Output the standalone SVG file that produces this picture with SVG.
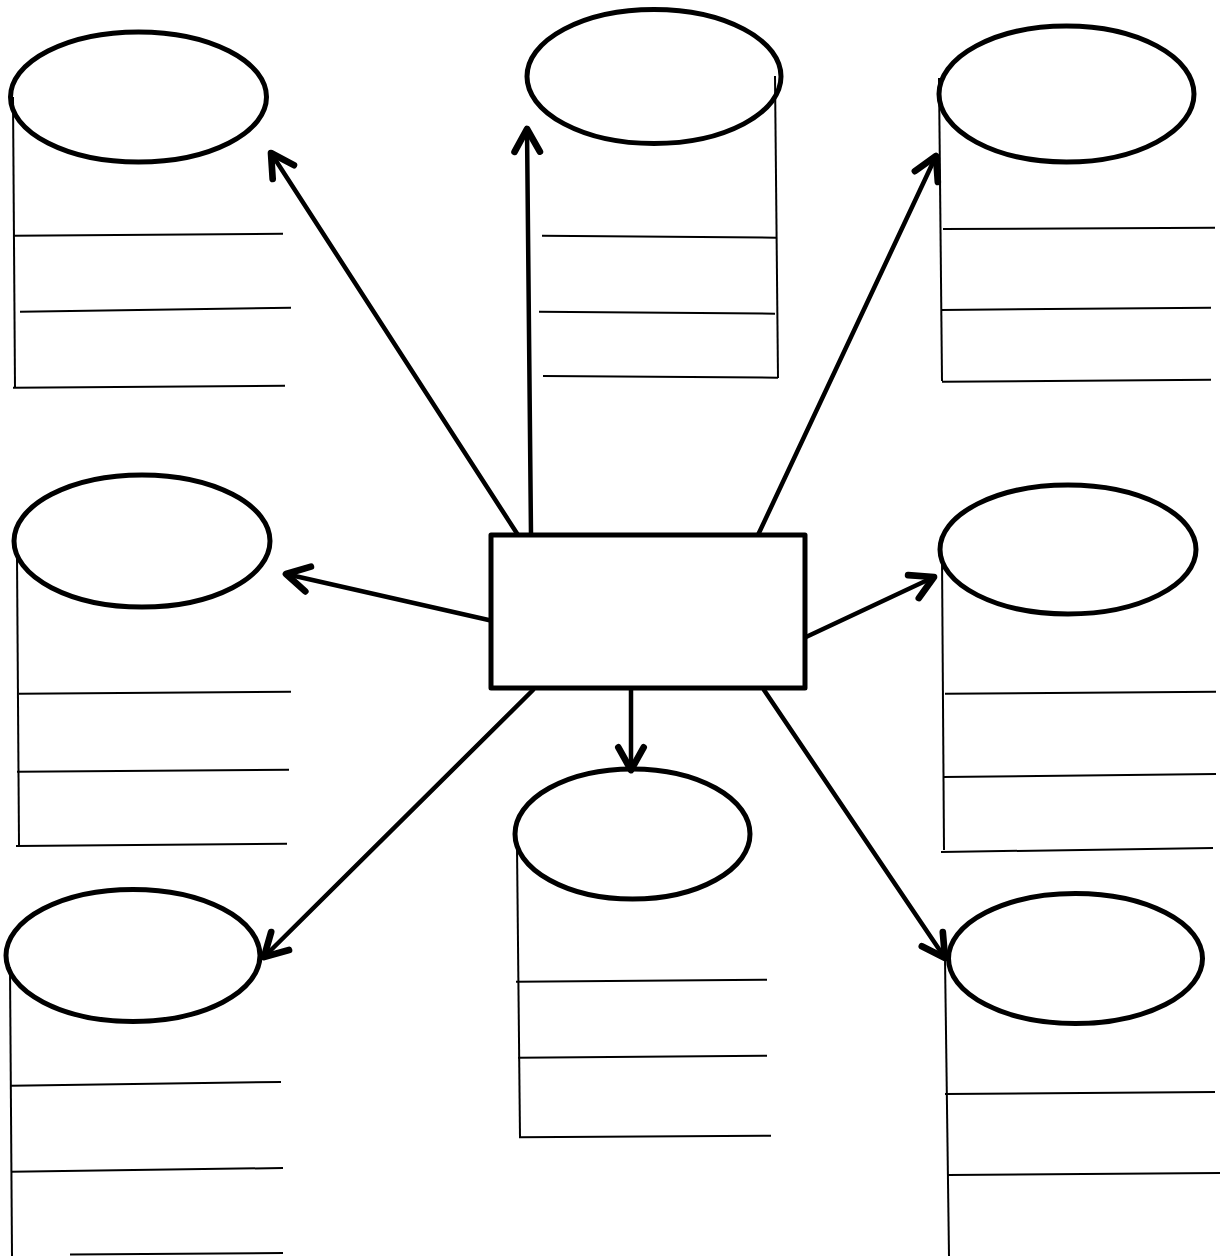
<svg xmlns="http://www.w3.org/2000/svg" width="1227" height="1256" viewBox="0 0 1227 1256">
<style>
.top{fill:none;stroke:#000;stroke-width:5}
.rule{fill:none;stroke:#000;stroke-width:2}
.arrow{fill:none;stroke:#000;stroke-width:4.5;stroke-linecap:round;marker-end:url(#head)}
.box{fill:#fff;stroke:#000;stroke-width:5;stroke-linejoin:round}
</style>
<defs>
<marker id="head" markerUnits="userSpaceOnUse" markerWidth="40" markerHeight="40" viewBox="-25 -15 30 30" refX="0" refY="0" orient="auto">
<path d="M-17,-9.5 L0,0 L-17,9.5" fill="none" stroke="#000" stroke-width="5" stroke-linecap="round" stroke-linejoin="round"/>
</marker>
</defs>
<rect width="1227" height="1256" fill="#fff"/>
<g id="connectors">
<line class="arrow" x1="518" y1="535" x2="271" y2="153"/>
<line class="arrow" x1="531" y1="535" x2="527" y2="129"/>
<line class="arrow" x1="758" y1="535" x2="936" y2="156"/>
<line class="arrow" x1="493" y1="621" x2="286" y2="574"/>
<line class="arrow" x1="806" y1="637" x2="934" y2="577"/>
<line class="arrow" x1="631" y1="688" x2="631" y2="770"/>
<line class="arrow" x1="533" y1="690" x2="264" y2="957"/>
<line class="arrow" x1="764" y1="690" x2="945" y2="958"/>
</g>
<g id="center">
<rect class="box" x="491" y="535" width="314" height="153"/>
</g>
<g id="cyl-top-left">
<ellipse class="top" cx="138.5" cy="97" rx="128" ry="65"/>
<line class="rule" x1="13" y1="97" x2="15" y2="388"/>
<line class="rule" x1="13" y1="235.7" x2="283" y2="233.7"/>
<line class="rule" x1="20" y1="311.7" x2="291" y2="307.7"/>
<line class="rule" x1="13" y1="387.7" x2="285" y2="385.7"/>
</g>
<g id="cyl-top-middle">
<ellipse class="top" cx="654" cy="76.5" rx="127" ry="67"/>
<line class="rule" x1="775" y1="76" x2="778" y2="378"/>
<line class="rule" x1="542" y1="235.7" x2="776" y2="237.7"/>
<line class="rule" x1="539" y1="311.7" x2="775" y2="313.7"/>
<line class="rule" x1="543" y1="376" x2="778" y2="377.7"/>
</g>
<g id="cyl-top-right">
<ellipse class="top" cx="1066.5" cy="94" rx="127.5" ry="68"/>
<line class="rule" x1="939" y1="78" x2="942" y2="381"/>
<line class="rule" x1="943" y1="229" x2="1215" y2="227.7"/>
<line class="rule" x1="941" y1="310" x2="1211" y2="307.7"/>
<line class="rule" x1="942" y1="381.7" x2="1211" y2="379.7"/>
</g>
<g id="cyl-mid-left">
<ellipse class="top" cx="142" cy="541" rx="128" ry="66"/>
<line class="rule" x1="17" y1="557" x2="19" y2="845"/>
<line class="rule" x1="19" y1="693.7" x2="291" y2="691.7"/>
<line class="rule" x1="17" y1="771.7" x2="289" y2="769.7"/>
<line class="rule" x1="16" y1="846" x2="287" y2="843.7"/>
</g>
<g id="cyl-mid-right">
<ellipse class="top" cx="1068" cy="549.5" rx="128" ry="64.5"/>
<line class="rule" x1="942" y1="557" x2="944" y2="850"/>
<line class="rule" x1="945" y1="693.7" x2="1216" y2="691.7"/>
<line class="rule" x1="943" y1="777" x2="1216" y2="774"/>
<line class="rule" x1="941" y1="852" x2="1213" y2="848"/>
</g>
<g id="cyl-bottom-middle">
<ellipse class="top" cx="632.5" cy="834" rx="117.5" ry="65"/>
<line class="rule" x1="517" y1="847" x2="520" y2="1137"/>
<line class="rule" x1="516" y1="981.7" x2="767" y2="979.7"/>
<line class="rule" x1="518" y1="1057.7" x2="767" y2="1055.7"/>
<line class="rule" x1="519" y1="1137.3" x2="771" y2="1135.7"/>
</g>
<g id="cyl-bottom-left">
<ellipse class="top" cx="133" cy="955.5" rx="127" ry="66"/>
<line class="rule" x1="10" y1="967" x2="12" y2="1256"/>
<line class="rule" x1="11" y1="1085.7" x2="281" y2="1082"/>
<line class="rule" x1="11" y1="1171.7" x2="283" y2="1168"/>
<line class="rule" x1="70" y1="1254.5" x2="283" y2="1253"/>
</g>
<g id="cyl-bottom-right">
<ellipse class="top" cx="1075.5" cy="958.5" rx="127" ry="65"/>
<line class="rule" x1="945" y1="958" x2="949" y2="1256"/>
<line class="rule" x1="945" y1="1094" x2="1215" y2="1092"/>
<line class="rule" x1="948" y1="1175" x2="1220" y2="1173"/>
</g>
</svg>
